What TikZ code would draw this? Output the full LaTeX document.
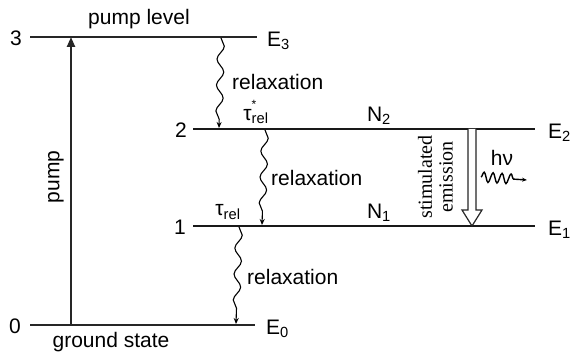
\documentclass[tikz,border=0pt]{standalone}
\usepackage{fontspec}
\setmainfont{Liberation Sans}
\newfontfamily\serifft{Liberation Serif}
\usetikzlibrary{decorations.pathmorphing,arrows.meta}
\begin{document}
\begin{tikzpicture}[x=1pt,y=-1pt,
  lbl/.style={font=\fontsize{21}{24}\selectfont, inner sep=0pt},
  thinlevel/.style={line width=1.5pt, black!85},
  thicklevel/.style={line width=2.4pt, black!90},
  wavy/.style={line width=1.1pt, decorate,
    decoration={snake, amplitude=3.5pt, segment length=26pt, post length=7pt},
    -{Stealth[length=6pt,width=5pt]}},
  photon/.style={line width=1.4pt, decorate,
    decoration={snake, amplitude=5pt, segment length=9pt, post length=9pt},
    -{Stealth[length=5pt,width=4pt]}}]
\useasboundingbox (0,0) rectangle (576,352);
% level endpoints
\coordinate (l3a) at (30,37);  \coordinate (l3b) at (257,37);
\coordinate (l2a) at (193,129); \coordinate (l2b) at (535,129);
\coordinate (l1a) at (193,226); \coordinate (l1b) at (535,226);
\coordinate (l0a) at (30,325);  \coordinate (l0b) at (255,325);
\draw[thinlevel] (l3a) -- (l3b);
\draw[thicklevel] (l2a) -- (l2b);
\draw[thicklevel] (l1a) -- (l1b);
\draw[thinlevel] (l0a) -- (l0b);
% level numbers
\node[lbl] (n3) at (16,38) {3};
\node[lbl] (n2) at (181,130) {2};
\node[lbl] (n1) at (180,227) {1};
\node[lbl] (n0) at (15,326) {0};
% energy labels
\node[lbl, anchor=west] (E3) at (267,41) {E\textsubscript{3}};
\node[lbl, anchor=west] (E2) at (548,133) {E\textsubscript{2}};
\node[lbl, anchor=west] (E1) at (548,230) {E\textsubscript{1}};
\node[lbl, anchor=west] (E0) at (266,329) {E\textsubscript{0}};
\node[lbl] (pl) at (139,19) {pump level};
\node[lbl] (gs) at (111,342) {ground state};
% pump
\coordinate (pb) at (71,325); \coordinate (pt) at (71,37);
\draw[line width=2.3pt, black!85, -{Triangle[length=10pt,width=8pt]}] (pb) -- (pt);
\node[lbl, rotate=90] (pump) at (56,177) {pump};
% relaxations
\coordinate (r1a) at (221,38); \coordinate (r1b) at (219,128);
\draw[wavy] (r1a) -- (r1b);
\node[lbl, anchor=west] (rl1) at (232,82) {relaxation};
\node[lbl] (tau2) at (256,112) {τ\rlap{\raisebox{1.1ex}{\fontsize{12}{12}\selectfont*}}\textsubscript{rel}};
\coordinate (r2a) at (265,130); \coordinate (r2b) at (262,225);
\draw[wavy] (r2a) -- (r2b);
\node[lbl, anchor=west] (rl2) at (271,178) {relaxation};
\node[lbl] (tau1) at (228,212) {τ\textsubscript{rel}};
\coordinate (r3a) at (239,227); \coordinate (r3b) at (236,324);
\draw[wavy] (r3a) -- (r3b);
\node[lbl, anchor=west] (rl3) at (247,277) {relaxation};
% populations
\node[lbl] (N2) at (379,116) {N\textsubscript{2}};
\node[lbl] (N1) at (379,213) {N\textsubscript{1}};
% stimulated emission
\node[font=\serifft\fontsize{20}{22}\selectfont, inner sep=0pt, rotate=90] (st) at (425,177) {stimulated};
\node[font=\serifft\fontsize{20}{22}\selectfont, inner sep=0pt, rotate=90] (em) at (446,177) {emission};
\draw[line width=1.2pt, black!85, fill=white]
  (468,129) -- (468,210) -- (462,210) -- (472,226) -- (482,210) -- (476,210) -- (476,129);
% photon
\node[lbl] (hv) at (502,158) {hν};
\coordinate (pha) at (481,177); \coordinate (phb) at (527,180);
\draw[photon] (pha) -- (phb);
\end{tikzpicture}
\end{document}
